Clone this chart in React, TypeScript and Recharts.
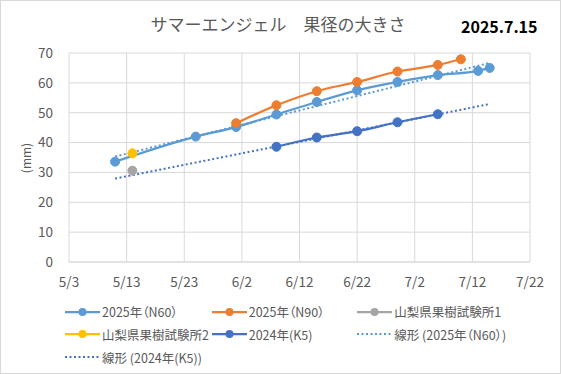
import React from 'react';
import { LineChart, Line, XAxis, YAxis, CartesianGrid } from 'recharts';

// 日付 (月/日) と果径 (mm)
const n60Dates = ['5/11', '5/25', '6/1', '6/8', '6/15', '6/22', '6/29', '7/6', '7/13', '7/15'];
const n60Values = [33.6, 42.0, 45.2, 49.4, 53.6, 57.5, 60.3, 62.6, 64.0, 65.0];

const n90Dates = ['6/1', '6/8', '6/15', '6/22', '6/29', '7/6', '7/10'];
const n90Values = [46.5, 52.5, 57.2, 60.3, 63.8, 66.0, 67.9];

const lab1Dates = ['5/14'];
const lab1Values = [30.6];

const lab2Dates = ['5/14'];
const lab2Values = [36.4];

const k5Dates = ['6/8', '6/15', '6/22', '6/29', '7/6'];
const k5Values = [38.6, 41.7, 43.8, 46.8, 49.5];

const xTickLabels = ['5/3', '5/13', '5/23', '6/2', '6/12', '6/22', '7/2', '7/12', '7/22'];
const yTicks = [0, 10, 20, 30, 40, 50, 60, 70];

const FONT = '"Noto Sans CJK JP", "Noto Sans", sans-serif';
const TEXT = '#595959';

// 5/3 からの日数
const toDay = (s: string) => {
  const [m, d] = s.split('/').map(Number);
  const offset = m === 5 ? 0 : m === 6 ? 31 : m === 7 ? 61 : 92;
  return offset + d - 3;
};
const fromDay = (n: number) => xTickLabels.find((t) => toDay(t) === n) ?? '';

const toPoints = (dates: string[], values: number[]) =>
  dates.map((d, i) => ({ x: toDay(d), y: values[i] }));

// 線形近似 (最小二乗)
const linearTrend = (dates: string[], values: number[], from: string, to: string) => {
  const xs = dates.map(toDay);
  const n = xs.length;
  const mx = xs.reduce((a, b) => a + b, 0) / n;
  const my = values.reduce((a, b) => a + b, 0) / n;
  let sxy = 0;
  let sxx = 0;
  xs.forEach((x, i) => {
    sxy += (x - mx) * (values[i] - my);
    sxx += (x - mx) * (x - mx);
  });
  const slope = sxy / sxx;
  const icpt = my - slope * mx;
  return [toDay(from), toDay(to)].map((x) => ({ x, y: icpt + slope * x }));
};

const n60 = toPoints(n60Dates, n60Values);
const n90 = toPoints(n90Dates, n90Values);
const lab1 = toPoints(lab1Dates, lab1Values);
const lab2 = toPoints(lab2Dates, lab2Values);
const k5 = toPoints(k5Dates, k5Values);
const rangeFrom = n60Dates[0];
const rangeTo = n60Dates[n60Dates.length - 1];
const n60Trend = linearTrend(n60Dates, n60Values, rangeFrom, rangeTo);
const k5Trend = linearTrend(k5Dates, k5Values, rangeFrom, rangeTo);

const legendItems = [
  { name: '2025年（N60）', color: '#5B9BD5', dotted: false, left: 65, top: 311.7 },
  { name: '2025年（N90）', color: '#ED7D31', dotted: false, left: 211.7, top: 311.7 },
  { name: '山梨県果樹試験所1', color: '#A5A5A5', dotted: false, left: 357.3, top: 311.7 },
  { name: '山梨県果樹試験所2', color: '#FFC000', dotted: false, left: 65, top: 334 },
  { name: '2024年(K5)', color: '#4472C4', dotted: false, left: 211.7, top: 334 },
  { name: '線形 (2025年（N60）)', color: '#5B9BD5', dotted: true, left: 357.3, top: 334 },
  { name: '線形 (2024年(K5))', color: '#4472C4', dotted: true, left: 65, top: 357.3 },
];

const LegendBox = () => (
  <>
    {legendItems.map((it) => (
      <div
        key={it.name}
        style={{
          position: 'absolute',
          left: it.left,
          top: it.top - 8,
          height: 16,
          display: 'flex',
          alignItems: 'center',
          fontSize: 12.5,
          color: TEXT,
          whiteSpace: 'nowrap',
        }}
      >
        <svg width={35} height={12} style={{ marginRight: 2 }}>
          {it.dotted ? (
            <line x1={0} y1={6} x2={35} y2={6} stroke={it.color} strokeWidth={2} strokeDasharray="2 2.5" />
          ) : (
            <>
              <line x1={0} y1={6} x2={35} y2={6} stroke={it.color} strokeWidth={2.25} />
              <circle cx={17.5} cy={6} r={4} fill={it.color} />
            </>
          )}
        </svg>
        <span>{it.name}</span>
      </div>
    ))}
  </>
);

export default function App() {
  return (
    <div
      style={{
        position: 'fixed',
        left: 0,
        top: 0,
        width: 561,
        height: 374,
        background: '#fff',
        fontFamily: FONT,
        fontFeatureSettings: '"palt"',
      }}
    >
      <div
        style={{
          position: 'absolute',
          left: 0,
          top: 11,
          width: 556,
          textAlign: 'center',
          fontSize: 17,
          color: TEXT,
          fontFeatureSettings: 'normal',
          whiteSpace: 'pre',
        }}
      >
        サマーエンジェル
        <span style={{ display: 'inline-block', width: 17 }}>{'  '}</span>
        果径の大きさ
      </div>
      <div style={{ position: 'absolute', left: 461, top: 14, fontSize: 16, fontWeight: 'bold', color: '#000' }}>
        2025.7.15
      </div>
      <div
        style={{
          position: 'absolute',
          left: 25,
          top: 158,
          transform: 'translate(-50%, -50%) rotate(-90deg)',
          fontSize: 12,
          color: TEXT,
        }}
      >
        (mm)
      </div>
      <LineChart width={561} height={374} margin={{ top: 53, right: 31, left: 0, bottom: 0 }}>
        <CartesianGrid stroke="#d9d9d9" strokeWidth={1} />
        <XAxis
          type="number"
          dataKey="x"
          domain={[0, 80]}
          ticks={xTickLabels.map(toDay)}
          tickFormatter={fromDay}
          height={112}
          axisLine={{ stroke: '#d9d9d9' }}
          tickLine={false}
          tickSize={6}
          tickMargin={9}
          tick={{ fill: TEXT, fontSize: 13.5, fontFamily: FONT }}
          allowDuplicatedCategory={false}
        />
        <YAxis
          type="number"
          domain={[0, 70]}
          ticks={yTicks}
          width={69}
          axisLine={false}
          tickLine={false}
          tickSize={6}
          tickMargin={10}
          tick={{ fill: TEXT, fontSize: 13.5, fontFamily: FONT }}
        />
        <Line data={n60} dataKey="y" type="monotone" stroke="#5B9BD5" strokeWidth={2.25}
          dot={{ r: 4.5, fill: '#5B9BD5', stroke: '#5B9BD5', strokeWidth: 1 }} isAnimationActive={false} />
        <Line data={n90} dataKey="y" type="monotone" stroke="#ED7D31" strokeWidth={2.25}
          dot={{ r: 4.5, fill: '#ED7D31', stroke: '#ED7D31', strokeWidth: 1 }} isAnimationActive={false} />
        <Line data={lab1} dataKey="y" stroke="#A5A5A5" strokeWidth={2.25}
          dot={{ r: 4.5, fill: '#A5A5A5', stroke: '#A5A5A5', strokeWidth: 1 }} isAnimationActive={false} />
        <Line data={lab2} dataKey="y" stroke="#FFC000" strokeWidth={2.25}
          dot={{ r: 4.5, fill: '#FFC000', stroke: '#FFC000', strokeWidth: 1 }} isAnimationActive={false} />
        <Line data={k5} dataKey="y" type="monotone" stroke="#4472C4" strokeWidth={2.25}
          dot={{ r: 4.5, fill: '#4472C4', stroke: '#4472C4', strokeWidth: 1 }} isAnimationActive={false} />
        <Line data={n60Trend} dataKey="y" type="linear" stroke="#5B9BD5" strokeWidth={2}
          strokeDasharray="2 2.5" dot={false} isAnimationActive={false} />
        <Line data={k5Trend} dataKey="y" type="linear" stroke="#4472C4" strokeWidth={2}
          strokeDasharray="2 2.5" dot={false} isAnimationActive={false} />
      </LineChart>
      <LegendBox />
      <div
        style={{
          position: 'absolute',
          left: 0,
          top: 0,
          width: 561,
          height: 374,
          boxSizing: 'border-box',
          border: '1px solid #d9d9d9',
          pointerEvents: 'none',
        }}
      />
    </div>
  );
}
